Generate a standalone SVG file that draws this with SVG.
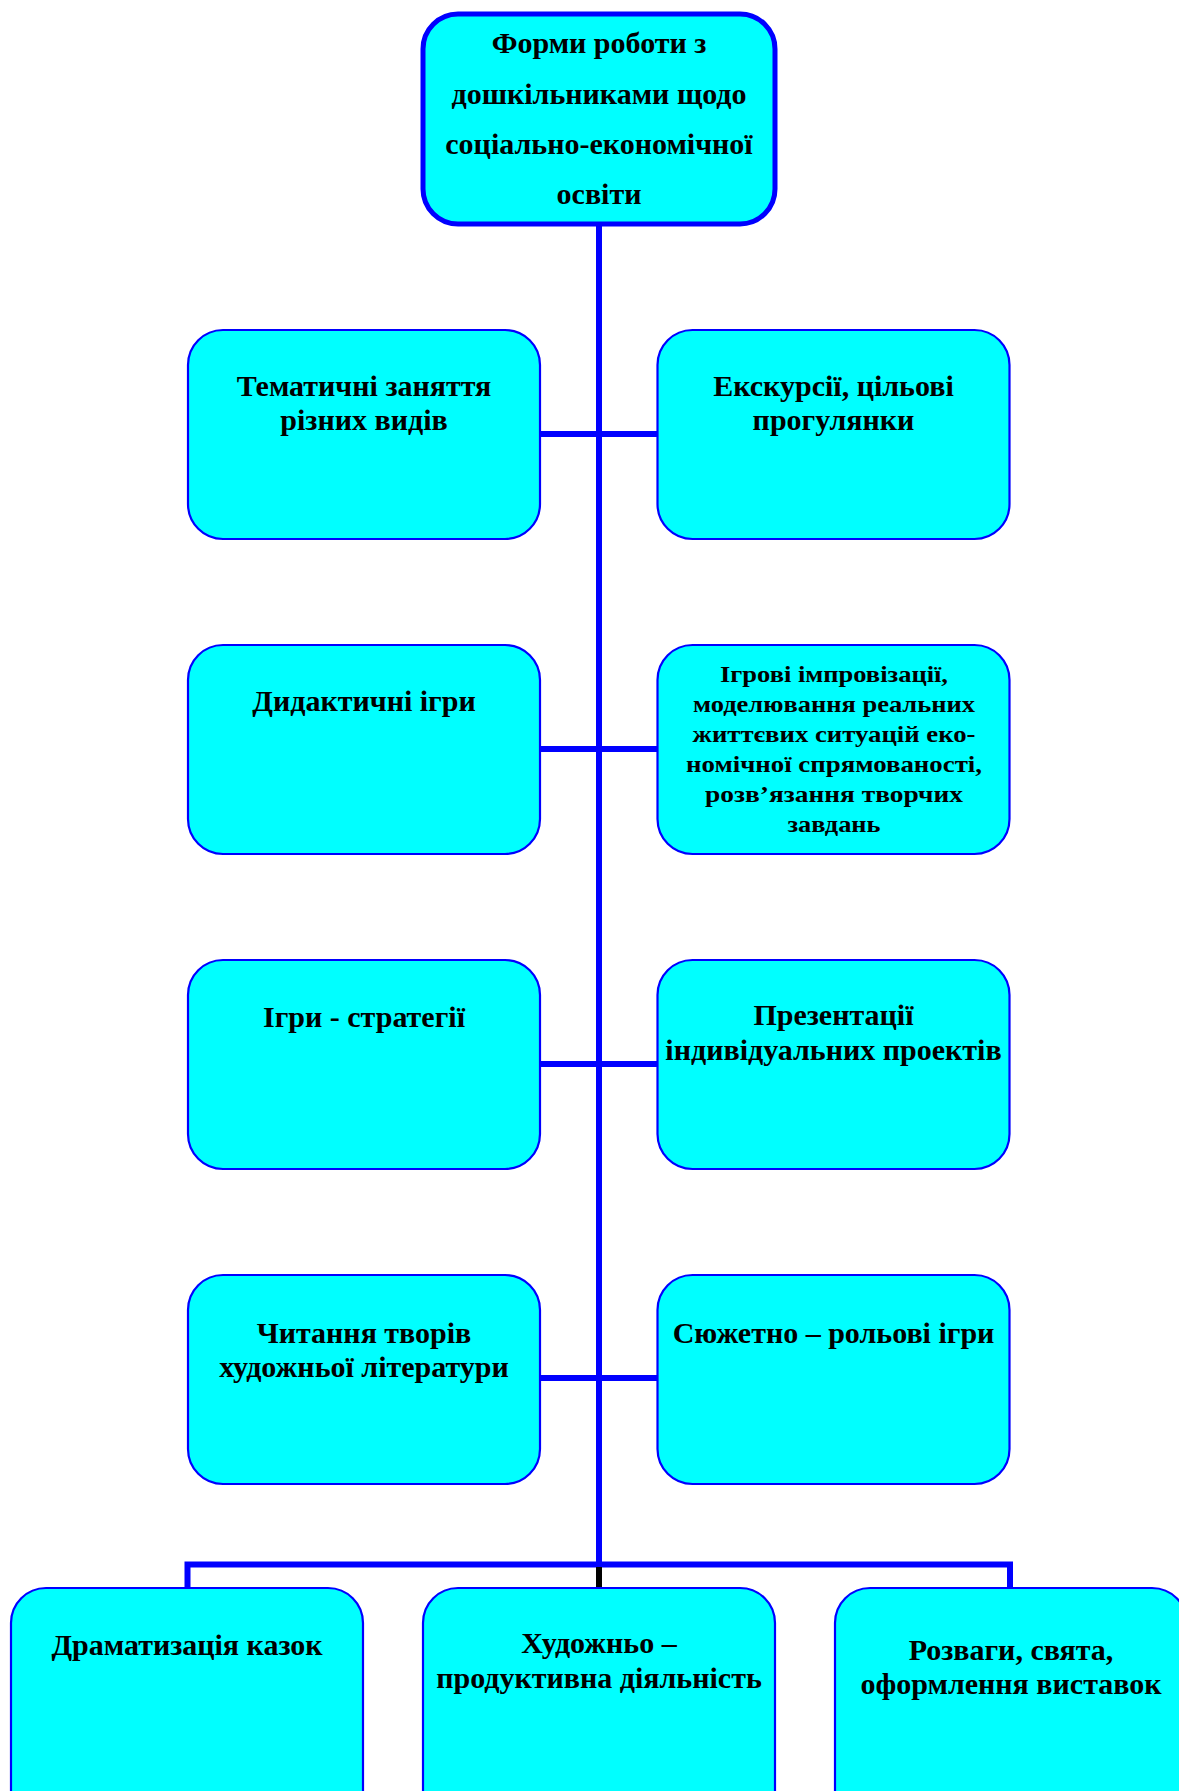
<svg xmlns="http://www.w3.org/2000/svg" width="1179" height="1791" viewBox="0 0 1179 1791">
<style>
.box{fill:#00FFFF;stroke:#0000FF;stroke-width:2.2}
.main{fill:#00FFFF;stroke:#0000FF;stroke-width:5}
.t{font-family:"Liberation Serif","Times New Roman",serif;font-weight:bold;font-size:30px;fill:#000;text-anchor:middle}
.s{font-family:"Liberation Serif","Times New Roman",serif;font-weight:bold;font-size:23px;fill:#000;text-anchor:middle}
.c{stroke:#0000FF;fill:none}
</style>
<rect width="1179" height="1791" fill="#fff"/>
<g id="connectors">
<line class="c" x1="599" y1="224" x2="599" y2="1567" stroke-width="6"/>
<line class="c" x1="540" y1="434" x2="657" y2="434" stroke-width="6"/>
<line class="c" x1="540" y1="749" x2="657" y2="749" stroke-width="6"/>
<line class="c" x1="540" y1="1064" x2="657" y2="1064" stroke-width="6"/>
<line class="c" x1="540" y1="1378" x2="657" y2="1378" stroke-width="6"/>
<polyline class="c" points="187.5,1588 187.5,1564.5 1010,1564.5 1010,1588" stroke-width="6"/>
<line x1="599" y1="1567" x2="599" y2="1588" stroke="#000" stroke-width="6"/>
</g>
<g id="root">
<rect class="main" x="423" y="14" width="352" height="210" rx="35"/>
<text class="t" x="599" y="53">Форми роботи з</text>
<text class="t" x="599" y="104">дошкільниками щодо</text>
<text class="t" x="599" y="154">соціально-економічної</text>
<text class="t" x="599" y="204">освіти</text>
</g>
<g id="n1">
<rect class="box" x="188" y="330" width="352" height="209" rx="35"/>
<text class="t" x="364" y="396">Тематичні заняття</text>
<text class="t" x="364" y="430">різних видів</text>
</g>
<g id="n2">
<rect class="box" x="657.5" y="330" width="352" height="209" rx="35"/>
<text class="t" x="833.5" y="396">Екскурсії, цільові</text>
<text class="t" x="833.5" y="430">прогулянки</text>
</g>
<g id="n3">
<rect class="box" x="188" y="645" width="352" height="209" rx="35"/>
<text class="t" x="364" y="711">Дидактичні ігри</text>
</g>
<g id="n4">
<rect class="box" x="657.5" y="645" width="352" height="209" rx="35"/>
<text class="s" x="834" y="682" textLength="228" lengthAdjust="spacingAndGlyphs">Ігрові імпровізації,</text>
<text class="s" x="834" y="712" textLength="282" lengthAdjust="spacingAndGlyphs">моделювання реальних</text>
<text class="s" x="834" y="742" textLength="283" lengthAdjust="spacingAndGlyphs">життєвих ситуацій еко-</text>
<text class="s" x="834" y="772" textLength="296" lengthAdjust="spacingAndGlyphs">номічної спрямованості,</text>
<text class="s" x="834" y="802" textLength="258" lengthAdjust="spacingAndGlyphs">розв’язання творчих</text>
<text class="s" x="834" y="832" textLength="93" lengthAdjust="spacingAndGlyphs">завдань</text>
</g>
<g id="n5">
<rect class="box" x="188" y="960" width="352" height="209" rx="35"/>
<text class="t" x="364" y="1027">Ігри - стратегії</text>
</g>
<g id="n6">
<rect class="box" x="657.5" y="960" width="352" height="209" rx="35"/>
<text class="t" x="833.5" y="1025">Презентації</text>
<text class="t" x="833.5" y="1060">індивідуальних проектів</text>
</g>
<g id="n7">
<rect class="box" x="188" y="1275" width="352" height="209" rx="35"/>
<text class="t" x="364" y="1343">Читання творів</text>
<text class="t" x="364" y="1377">художньої літератури</text>
</g>
<g id="n8">
<rect class="box" x="657.5" y="1275" width="352" height="209" rx="35"/>
<text class="t" x="833.5" y="1343">Сюжетно – рольові ігри</text>
</g>
<g id="n9">
<rect class="box" x="11" y="1588" width="352" height="240" rx="35"/>
<text class="t" x="187" y="1655">Драматизація казок</text>
</g>
<g id="n10">
<rect class="box" x="423" y="1588" width="352" height="240" rx="35"/>
<text class="t" x="599" y="1653">Художньо –</text>
<text class="t" x="599" y="1688">продуктивна діяльність</text>
</g>
<g id="n11">
<rect class="box" x="835" y="1588" width="352" height="240" rx="35"/>
<text class="t" x="1011" y="1660">Розваги, свята,</text>
<text class="t" x="1011" y="1694">оформлення виставок</text>
</g>
</svg>
